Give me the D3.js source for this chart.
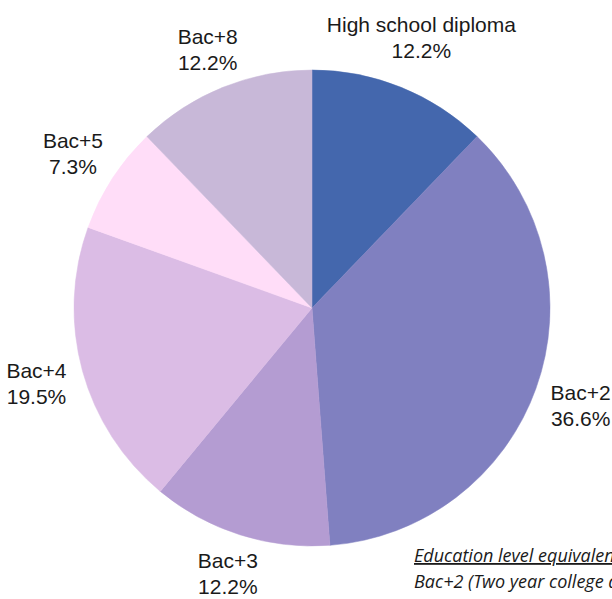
<!DOCTYPE html>
<html>
<head>
<meta charset="utf-8">
<script src="https://cdn.jsdelivr.net/npm/d3@7"></script>
<style>
  body { margin: 0; background: #fff; }
  svg { display: block; }
</style>
</head>
<body>
<div class="chart"></div>
<script>
const categories = ["High school diploma", "Bac+2", "Bac+3", "Bac+4", "Bac+5", "Bac+8"];
const percents = [12.2, 36.6, 12.2, 19.5, 7.3, 12.2];
const colors = ["#4467ad", "#8080c0", "#b49cd2", "#dbbce5", "#ffddf8", "#c8b8d8"];
const notes = ["Education level equivalence", "Bac+2 (Two year college degree)"];

const svgWidth = 612, svgHeight = 599;
const cx = 312, cy = 308, radius = 238;

const svg = d3.select(".chart")
  .append("svg")
  .attr("width", svgWidth)
  .attr("height", svgHeight);

const g = svg.append("g")
  .attr("transform", `translate(${cx}, ${cy})`);

const data = categories.map((c, i) => ({ name: c, value: percents[i], color: colors[i] }));

const pie = d3.pie().sort(null).value(d => d.value);
const arc = d3.arc().innerRadius(0).outerRadius(radius);

const arcs = pie(data);

g.selectAll("path")
  .data(arcs)
  .enter()
  .append("path")
  .attr("d", arc)
  .attr("fill", d => d.data.color)
  .attr("stroke", d => d.data.color)
  .attr("stroke-width", 0.5);

// labels outside the slices, pushed out a bit more for wide text going sideways
const labels = g.selectAll("text.lbl")
  .data(arcs)
  .enter()
  .append("text")
  .attr("class", "lbl")
  .attr("text-anchor", "middle")
  .style("font-family", "'Liberation Sans', Arial, sans-serif")
  .style("font-size", "21px")
  .style("fill", "#1a1a1a");

labels.append("tspan")
  .attr("x", 0)
  .attr("y", -5)
  .text(d => d.data.name);

labels.append("tspan")
  .attr("x", 0)
  .attr("y", 21)
  .text(d => d.data.value.toFixed(1) + "%");

labels.attr("transform", function(d) {
  const a = (d.startAngle + d.endAngle) / 2;
  const w = this.getBBox().width;
  const dist = 268 + 0.56 * Math.abs(Math.sin(a)) * w / 2 + 5 * Math.abs(Math.cos(a));
  return `translate(${dist * Math.sin(a)}, ${-dist * Math.cos(a)})`;
});

// footnote (runs off the right edge, as in the original)
const note = svg.append("text")
  .style("font-family", "'Open Sans', sans-serif")
  .style("font-style", "italic")
  .style("font-size", "18px")
  .style("fill", "#1a1a1a");

note.append("tspan")
  .attr("x", 414)
  .attr("y", 562)
  .style("text-decoration", "underline")
  .text(notes[0]);

note.append("tspan")
  .attr("x", 414)
  .attr("y", 588)
  .text(notes[1]);
</script>
</body>
</html>
